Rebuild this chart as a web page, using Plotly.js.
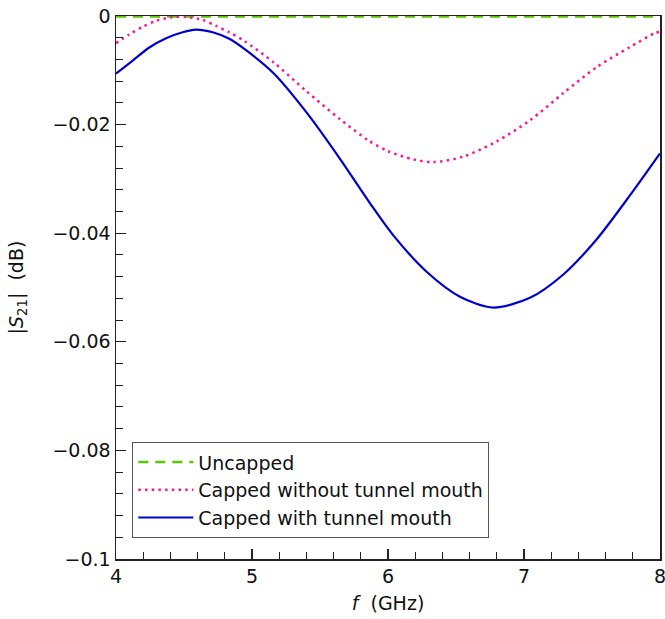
<!DOCTYPE html>
<html>
<head>
<meta charset="utf-8">
<script src="https://cdn.plot.ly/plotly-3.0.1.min.js"></script>
<style>html,body{margin:0;padding:0;background:#fff;}#chart{width:665px;height:619px;}</style>
</head>
<body>
<div id="chart"></div>
<script>
const freqUncapped = [4.0, 4.5, 5.0, 5.5, 6.0, 6.5, 7.0, 7.5, 8.0];
const s21Uncapped  = [-0.0001, -0.0001, -0.0001, -0.0001, -0.0001, -0.0001, -0.0001, -0.0001, -0.0001];

const freqNoMouth = [4.0, 4.098, 4.196, 4.294, 4.417, 4.515, 4.637, 4.735, 4.833, 4.943, 5.157, 5.402, 5.647, 5.855, 6.0, 6.186, 6.333, 6.553, 6.799, 7.044, 7.289, 7.535, 7.78, 7.96, 8.0];
const s21NoMouth  = [-0.0050, -0.0034, -0.0020, -0.0009, -0.0002, -0.0002, -0.0007, -0.0018, -0.0030, -0.0046, -0.0085, -0.0139, -0.0190, -0.0229, -0.0249, -0.0264, -0.0269, -0.0259, -0.0231, -0.0192, -0.0142, -0.0094, -0.0057, -0.0032, -0.0029];

const freqMouth = [4.0, 4.123, 4.245, 4.368, 4.49, 4.588, 4.711, 4.833, 4.956, 5.157, 5.402, 5.647, 5.868, 6.039, 6.284, 6.529, 6.774, 7.044, 7.289, 7.535, 7.78, 8.0];
const s21Mouth  = [-0.0106, -0.0082, -0.0058, -0.0041, -0.0030, -0.0025, -0.0030, -0.0042, -0.0063, -0.0105, -0.0178, -0.0263, -0.0345, -0.0404, -0.0471, -0.0517, -0.0537, -0.0519, -0.0476, -0.0411, -0.0330, -0.0253];

const names = ["Uncapped", "Capped without tunnel mouth", "Capped with tunnel mouth"];

const font = "DejaVu Sans, sans-serif";

const traces = [
  {x: freqUncapped, y: s21Uncapped, name: names[0], mode: "lines",
   line: {color: "#55c800", width: 2.5, dash: "10px,7px"}},
  {x: freqNoMouth, y: s21NoMouth, name: names[1], mode: "lines",
   line: {color: "#ff1493", width: 2.5, dash: "2.5px,4.2px", shape: "spline", smoothing: 0.8}},
  {x: freqMouth, y: s21Mouth, name: names[2], mode: "lines",
   line: {color: "#0000cc", width: 2.2, shape: "spline", smoothing: 0.8}}
];

const axisCommon = {
  showgrid: false, zeroline: false, showline: true, mirror: true,
  linecolor: "#222", linewidth: 1.5,
  ticks: "inside", ticklen: 10, tickwidth: 1.2, tickcolor: "#222",
  ticklabeloverflow: "allow",
  tickfont: {family: font, size: 19, color: "#111"}
};

const layout = {
  width: 665, height: 619,
  margin: {l: 116, r: 5, t: 16, b: 60},
  paper_bgcolor: "#fff", plot_bgcolor: "#fff",
  showlegend: true,
  font: {family: font, color: "#111"},
  xaxis: Object.assign({}, axisCommon, {
    range: [4, 8], tickvals: [4, 5, 6, 7, 8], ticktext: ["4", "5", "6", "7", "8"],
    minor: {dtick: 0.2, tick0: 4, ticks: "inside", ticklen: 7, tickcolor: "#222", tickwidth: 1},
    title: {text: "<i>f</i>  (GHz)", font: {family: font, size: 19}, standoff: 10}
  }),
  yaxis: Object.assign({}, axisCommon, {
    range: [-0.1, 0], dtick: 0.02, tick0: 0,
    minor: {dtick: 0.004, ticks: "inside", ticklen: 7, tickcolor: "#222", tickwidth: 1},
    title: {text: "|<i>S</i><sub>21</sub>|  (dB)", font: {family: font, size: 19}, standoff: 24}
  }),
  legend: {
    x: 0.03, y: 0.215, xanchor: "left", yanchor: "top",
    bgcolor: "#fff", bordercolor: "#555", borderwidth: 1,
    font: {family: font, size: 19, color: "#111"},
    itemwidth: 55, tracegroupgap: 0
  }
};

Plotly.newPlot("chart", traces, layout, {displayModeBar: false, staticPlot: true});
</script>
</body>
</html>
